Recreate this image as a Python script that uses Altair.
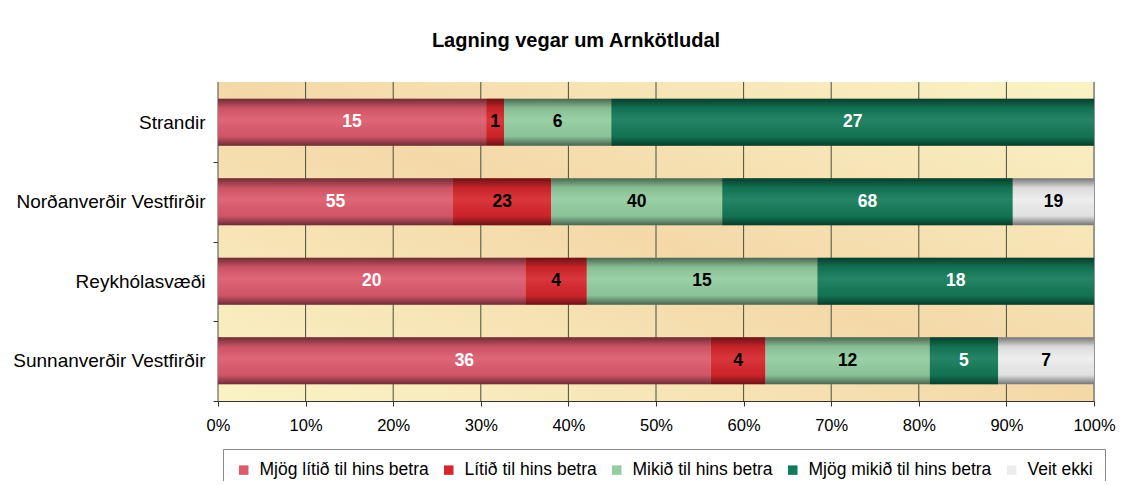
import altair as alt
import pandas as pd

regions = ["Strandir", "Norðanverðir Vestfirðir", "Reykhólasvæði", "Sunnanverðir Vestfirðir"]
categories = [
    "Mjög lítið til hins betra",
    "Lítið til hins betra",
    "Mikið til hins betra",
    "Mjög mikið til hins betra",
    "Veit ekki",
]
mjog_litid = [15, 55, 20, 36]
litid = [1, 23, 4, 4]
mikid = [6, 40, 15, 12]
mjog_mikid = [27, 68, 18, 5]
veit_ekki = [0, 19, 0, 7]
colors = ["#DC5A6C", "#D7262C", "#93CDA0", "#137A58", "#EDEDED"]
x_ticks = [0, 0.1, 0.2, 0.3, 0.4, 0.5, 0.6, 0.7, 0.8, 0.9, 1.0]
title_text = "Lagning vegar um Arnkötludal"

FONT = "Liberation Sans"

rows = []
for ci, (cat, vals) in enumerate(zip(categories, [mjog_litid, litid, mikid, mjog_mikid, veit_ekki])):
    for r, v in zip(regions, vals):
        if v > 0:
            rows.append({"region": r, "category": cat, "order": ci, "value": v})
df = pd.DataFrame(rows)

base = (
    alt.Chart(df)
    .transform_joinaggregate(total="sum(value)", groupby=["region"])
    .transform_window(
        cum="sum(value)", sort=[alt.SortField("order")], groupby=["region"], frame=[None, 0]
    )
    .transform_calculate(
        start="(datum.cum - datum.value) / datum.total",
        end="datum.cum / datum.total",
        mid="(datum.cum - datum.value / 2) / datum.total",
    )
)

y_enc = alt.Y(
    "region:N",
    sort=regions,
    title=None,
    scale=alt.Scale(paddingInner=0.41, paddingOuter=0.21),
    axis=alt.Axis(
        labelFontSize=19,
        labelFont=FONT,
        labelColor="#000000",
        labelLimit=400,
        tickOffset=39.8,
        labelOffset=-39.8,
        tickSize=5,
        labelPadding=8,
        domainColor="#333333",
        tickColor="#333333",
        grid=False,
    ),
)

x_enc = alt.X(
    "start:Q",
    title=None,
    scale=alt.Scale(domain=[0, 1], nice=False),
    axis=alt.Axis(
        values=x_ticks,
        format=".0%",
        labelFontSize=16.5,
        labelFont=FONT,
        labelColor="#000000",
        labelFlush=False,
        tickSize=5,
        labelPadding=11,
        domainColor="#333333",
        tickColor="#333333",
        grid=False,
    ),
)

# plot-area background (gradient) spanning the full x domain
bg = alt.Chart(pd.DataFrame({"lo": [x_ticks[0]], "hi": [x_ticks[-1]]})).mark_rect(
    fill=alt.LinearGradient(
        gradient="linear",
        x1=0, y1=1, x2=1, y2=0,
        stops=[
            alt.GradientStop(color="#FAF3C6", offset=0),
            alt.GradientStop(color="#F4D8A8", offset=0.5),
            alt.GradientStop(color="#FAF3C6", offset=1),
        ],
    )
).encode(x=alt.X("lo:Q", title=None), x2="hi:Q")

grid = alt.Chart(pd.DataFrame({"t": x_ticks})).mark_rule(
    color="#44503f", strokeWidth=1
).encode(x=alt.X("t:Q", title=None))

bars = base.mark_bar().encode(
    x=x_enc,
    x2="end:Q",
    y=y_enc,
    color=alt.Color(
        "category:N",
        scale=alt.Scale(domain=categories, range=colors),
        legend=alt.Legend(
            title=None,
            orient="none",
            legendX=5,
            legendY=367,
            direction="horizontal",
            columns=5,
            symbolType="square",
            symbolSize=90,
            symbolStrokeWidth=0,
            labelFontSize=17.5,
            labelFont=FONT,
            labelColor="#000000",
            labelLimit=400,
            labelOffset=7,
            columnPadding=11,
            padding=12,
            strokeColor="#888888",
            fillColor="#ffffff",
        ),
    ),
)

shade = base.mark_bar(
    fill=alt.LinearGradient(
        gradient="linear",
        x1=0, y1=0, x2=0, y2=1,
        stops=[
            alt.GradientStop(color="rgba(0,0,0,0.5)", offset=0),
            alt.GradientStop(color="rgba(0,0,0,0.08)", offset=0.2),
            alt.GradientStop(color="rgba(255,255,255,0.08)", offset=0.45),
            alt.GradientStop(color="rgba(0,0,0,0.05)", offset=0.8),
            alt.GradientStop(color="rgba(0,0,0,0.5)", offset=1),
        ],
    )
).encode(x="start:Q", x2="end:Q", y=alt.Y("region:N", sort=regions))

labels = base.mark_text(fontSize=17.5, fontWeight="bold", font=FONT).encode(
    x="mid:Q",
    y=alt.Y("region:N", sort=regions),
    text="value:Q",
    color=alt.condition(
        alt.FieldOneOfPredicate(field="category", oneOf=[categories[0], categories[3]]),
        alt.value("#ffffff"),
        alt.value("#000000"),
    ),
)

chart = (
    alt.layer(bg, grid, bars, shade, labels)
    .properties(
        width=876,
        height=319,
        autosize=alt.AutoSizeParams(type="none"),
        padding={"left": 210, "top": 74, "right": 23, "bottom": 80},
        title=alt.TitleParams(
            title_text,
            fontSize=20,
            fontWeight="bold",
            font=FONT,
            color="#000000",
            anchor="middle",
            dx=-80,
            offset=15,
            baseline="alphabetic",
        ),
    )
    .configure_view(stroke="#8a8a8a")
    .configure(font=FONT, background="#ffffff")
)

chart.save("out.html", embed_options={"renderer": "svg", "actions": False})
